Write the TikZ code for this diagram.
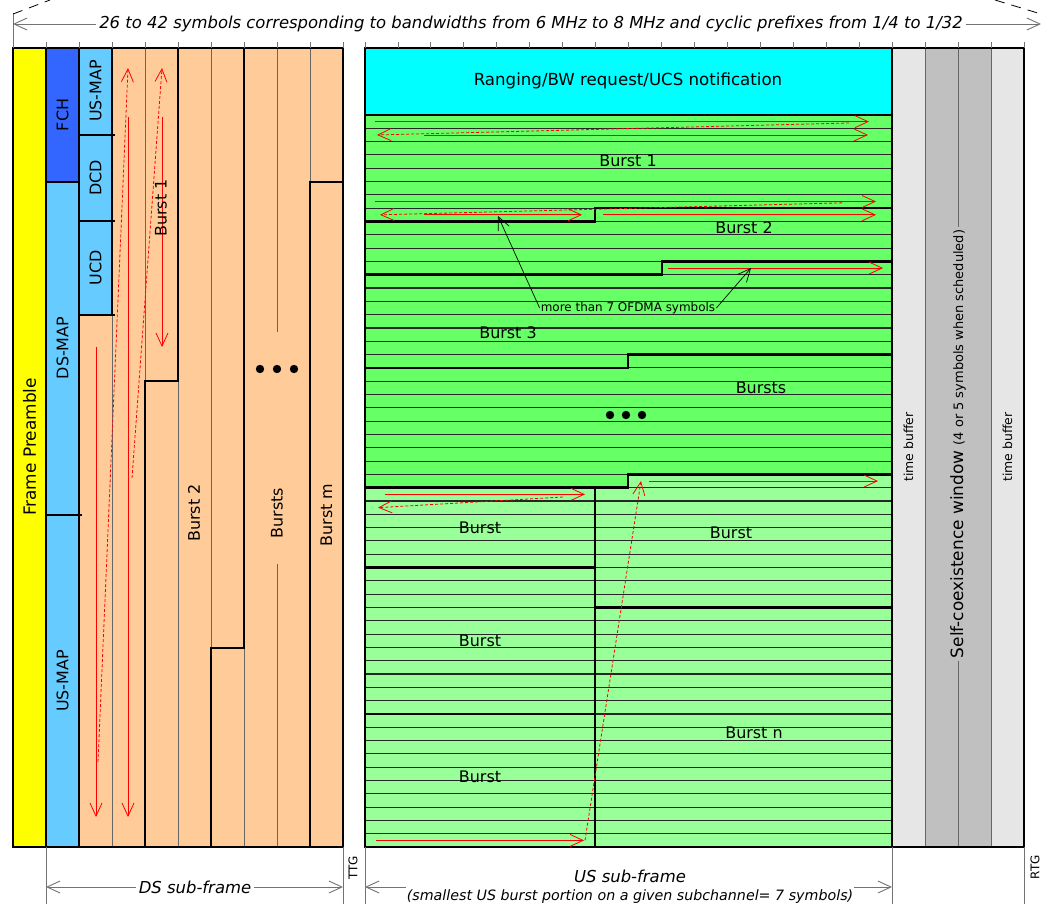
\documentclass[tikz,border=0pt]{standalone}
\usepackage{fontspec}
\setmainfont{DejaVu Sans}
\usetikzlibrary{arrows.meta}

\definecolor{preamble}{HTML}{FFFF00}
\definecolor{fch}{HTML}{3366FF}
\definecolor{mapblue}{HTML}{66CCFF}
\definecolor{dsburst}{HTML}{FFCC99}
\definecolor{ranging}{HTML}{00FFFF}
\definecolor{usdark}{HTML}{66FF66}
\definecolor{uslight}{HTML}{99FF99}
\definecolor{tbuffer}{HTML}{E6E6E6}
\definecolor{scwin}{HTML}{C0C0C0}

\begin{document}
\begin{tikzpicture}[
    x=1bp, y=-1bp,
    declare function={row(\k)=115+13.31*\k;},
    >={Straight Barb[length=13bp,width=12bp]},
    bound/.style={draw=black, line width=2.5bp, line join=miter},
    sep/.style={draw=black!60, line width=0.9bp},
    symline/.style={draw=black!85, line width=1.1bp},
    ruler/.style={draw=black!55, line width=0.8bp},
    dim/.style={draw=black!55, line width=0.9bp},
    flow/.style={draw=red, line width=0.8bp, ->},
    back/.style={flow, dash pattern=on 3bp off 2bp},
    note/.style={draw=black, line width=0.7bp, ->},
    txt/.style={font=\fontsize{16}{18}\selectfont, inner sep=1bp},
    vtxt/.style={txt, rotate=90},
    notetxt/.style={font=\fontsize{12}{14}\selectfont, inner sep=1bp},
    dimtxt/.style={font=\itshape\fontsize{16.5}{18}\selectfont, fill=white, inner sep=3bp}
  ]
  \useasboundingbox (0,0) rectangle (1041,904);

  % DS sub-frame fills
  \fill[preamble] (13,48) rectangle (46,847);
  \fill[fch] (46,48) rectangle (79,182);
  \fill[mapblue] (46,182) rectangle (79,847);
  \fill[mapblue] (79,48) rectangle (112,315);
  \fill[dsburst] (79,315) rectangle (112,847);
  \fill[dsburst] (112,48) rectangle (343,847);

  % US sub-frame fills
  \fill[ranging] (365,48) rectangle (892,115);
  \fill[uslight] (365,115) rectangle (892,847);
  \fill[usdark] (365,115) -- (892,115) -- (892,{row(27)}) -- (628,{row(27)})
    -- (628,{row(28)}) -- (365,{row(28)}) -- cycle;

  % self-coexistence window
  \fill[tbuffer] (892,48) rectangle (1024,847);
  \fill[scwin] (925,48) rectangle (991,847);

  % thin separators
  \draw[sep] (112,315) -- (112,847);
  \draw[sep] (145,48) -- (145,381);
  \draw[sep] (178,381) -- (178,847);
  \draw[sep] (211,48) -- (211,648);
  \draw[sep] (244,648) -- (244,847);
  \draw[sep] (277,48) -- (277,332);
  \draw[sep] (277,564) -- (277,847);
  \draw[sep] (310,48) -- (310,182);
  \foreach \k in {1,...,54}
    \draw[symline] (365,{row(\k)}) -- (892,{row(\k)});
  \draw[sep] (925,48) -- (925,847);
  \draw[sep] (958,48) -- (958,847);
  \draw[sep] (991,48) -- (991,847);

  % burst boundaries
  \draw[bound] (13,48) rectangle (343,847);
  \draw[bound] (46,48) -- (46,847);
  \draw[bound] (79,48) -- (79,847);
  \draw[bound] (46,182) -- (79,182);
  \draw[bound] (46,515) -- (82,515);
  \draw[bound] (112,48) -- (112,315);
  \draw[bound] (79,135) -- (115,135);
  \draw[bound] (79,221) -- (115,221);
  \draw[bound] (79,315) -- (115,315);
  \draw[bound] (178,48) -- (178,381) -- (145,381) -- (145,847);
  \draw[bound] (244,48) -- (244,648) -- (211,648) -- (211,847);
  \draw[bound] (343,182) -- (310,182) -- (310,847);
  \draw[bound] (365,48) rectangle (892,847);
  \draw[bound] (365,115) -- (892,115);
  \draw[bound] (365,{row(8)}) -- (595,{row(8)}) -- (595,{row(7)}) -- (892,{row(7)});
  \draw[bound] (365,{row(12)}) -- (662,{row(12)}) -- (662,{row(11)}) -- (892,{row(11)});
  \draw[bound] (365,{row(19)}) -- (628,{row(19)}) -- (628,{row(18)}) -- (892,{row(18)});
  \draw[bound] (365,{row(28)}) -- (628,{row(28)}) -- (628,{row(27)}) -- (892,{row(27)});
  \draw[bound] (595,{row(28)}) -- (595,847);
  \draw[bound] (365,{row(34)}) -- (595,{row(34)});
  \draw[bound] (365,{row(45)}) -- (595,{row(45)});
  \draw[bound] (595,{row(37)}) -- (892,{row(37)});
  \draw[bound] (892,48) rectangle (1024,847);

  % mapping order
  \draw[flow] (96,347) -- (96,817);
  \draw[back] (98,762) -- (128,68);
  \draw[flow] (128,117) -- (128,817);
  \draw[back] (132,478) -- (162,68);
  \draw[flow] (162,117) -- (162,347);
  \draw[flow] (375,{row(0.5)}) -- (869,{row(0.5)});
  \draw[back] (849,{row(0.6)}) -- (377,{row(1.5)});
  \draw[flow] (424,{row(1.5)}) -- (868,{row(1.5)});
  \draw[flow] (375,{row(6.5)}) -- (876,{row(6.5)});
  \draw[back] (842,{row(6.6)}) -- (380,{row(7.5)});
  \draw[flow] (424,{row(7.5)}) -- (582,{row(7.5)});
  \draw[flow] (603,{row(7.5)}) -- (876,{row(7.5)});
  \draw[flow] (668,{row(11.5)}) -- (883,{row(11.5)});
  \draw[flow] (649,{row(27.5)}) -- (878,{row(27.5)});
  \draw[back] (585,{row(54.5)}) -- (641,{row(27.5)});
  \draw[flow] (385,{row(28.5)}) -- (585,{row(28.5)});
  \draw[back] (563,{row(28.7)}) -- (378,{row(29.5)});
  \draw[flow] (376,{row(54.5)}) -- (584,{row(54.5)});

  % DS labels
  \node[vtxt, font=\fontsize{17}{20}\selectfont] (preamblelbl) at (29.5,447) {Frame Preamble};
  \node[vtxt] (fchlbl)   at (62.5,115) {FCH};
  \node[vtxt] (dsmap)    at (62.5,348) {DS-MAP};
  \node[vtxt] (usmapa)   at (62.5,681) {US-MAP};
  \node[vtxt] (usmapb)   at (95.5,91)  {US-MAP};
  \node[vtxt] (dcd)      at (95.5,178) {DCD};
  \node[vtxt] (ucd)      at (95.5,268) {UCD};
  \node[vtxt] (dsburst1) at (161,208)  {Burst 1};
  \node[vtxt] (dsburst2) at (194,513)  {Burst 2};
  \node[vtxt] (dsbursts) at (277,513)  {Bursts};
  \node[vtxt] (dsburstm) at (326.5,515) {Burst m};
  \foreach \x in {260,277,294}
    \fill (\x,369) circle (4.2bp);

  % US labels
  \node[txt, font=\fontsize{16.7}{18}\selectfont] (rng) at (628,81) {Ranging/BW request/UCS notification};
  \node[txt] (usburst1) at (628,161) {Burst 1};
  \node[txt] (usburst2) at (744,228) {Burst 2};
  \node[txt] (usburst3) at (508,333) {Burst 3};
  \node[txt] (usbursts) at (761,388) {Bursts};
  \node[txt] (usburstl1) at (480,528) {Burst};
  \node[txt] (usburstr) at (731,533) {Burst};
  \node[txt] (usburstl2) at (480,641) {Burst};
  \node[txt] (usburstn) at (754,733) {Burst n};
  \node[txt] (usburstl3) at (480,777) {Burst};
  \foreach \x in {610,626,642}
    \fill (\x,415) circle (4.2bp);
  \node[notetxt] (ofdma) at (628,308) {more than 7 OFDMA symbols};
  \coordinate (b1last) at (498,216);
  \coordinate (b3first) at (751,268);
  \draw[note] (ofdma.west) -- (b1last);
  \draw[note] (ofdma.east) -- (b3first);

  % self-coexistence window labels
  \node[vtxt, font=\fontsize{12.5}{14}\selectfont] (tbufa) at (908.5,447) {time buffer};
  \node[vtxt, font=\fontsize{12.5}{14}\selectfont] (tbufb) at (1007.5,447) {time buffer};
  \node[rotate=90, fill=scwin, inner sep=3bp] (scwlbl) at (958,444)
    {\fontsize{17}{20}\selectfont Self-coexistence window \fontsize{13}{16}\selectfont(4 or 5 symbols when scheduled)};

  % symbol ruler and frame span
  \foreach \i in {0,...,10}
    \draw[ruler] ({13+33*\i},42) -- ({13+33*\i},48);
  \foreach \i in {0,...,16}
    \draw[ruler] ({365+32.94*\i},42) -- ({365+32.94*\i},48);
  \foreach \i in {0,...,4}
    \draw[ruler] ({892+33*\i},42) -- ({892+33*\i},48);
  \draw[dim] (13,13) -- (13,42);
  \draw[dim, <->] (13,24) -- (1041,24);
  \node[dimtxt] (span) at (531,24)
    {26 to 42 symbols corresponding to bandwidths from 6 MHz to 8 MHz and cyclic prefixes from 1/4 to 1/32};
  \draw[black, line width=0.8bp, dash pattern=on 10bp off 7bp] (13,14) -- (50,0);
  \draw[black, line width=0.8bp, dash pattern=on 10bp off 7bp] (995,0) -- (1041,14);

  % sub-frame spans
  \foreach \x in {46,343,365,892,1024}
    \draw[dim] (\x,847) -- (\x,904);
  \draw[dim, <->] (46,887) -- (343,887);
  \node[dimtxt, font=\itshape\fontsize{16.5}{18}\selectfont] (dsspan) at (195,887) {DS sub-frame};
  \draw[dim, <->] (365,887) -- (892,887);
  \node[dimtxt, align=center, inner sep=1bp] (usspan) at (630,887)
    {\fontsize{16.5}{17}\selectfont US sub-frame\\\fontsize{14.3}{17}\selectfont(smallest US burst portion on a given subchannel= 7 symbols)};
  \node[rotate=90, font=\fontsize{12}{14}\selectfont] (ttg) at (353,868) {TTG};
  \node[rotate=90, font=\fontsize{12}{14}\selectfont] (rtg) at (1035,867) {RTG};
\end{tikzpicture}
\end{document}
